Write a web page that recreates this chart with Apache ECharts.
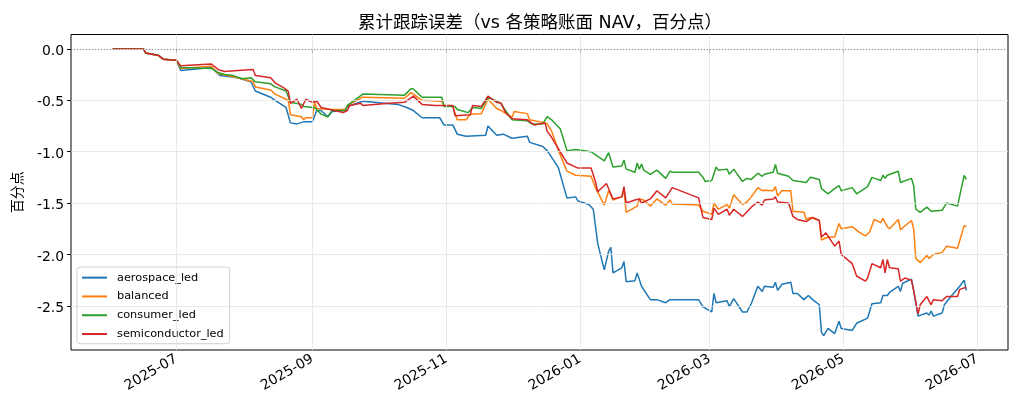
<!DOCTYPE html>
<html>
<head>
<meta charset="utf-8">
<script src="https://cdn.jsdelivr.net/npm/echarts@6/dist/echarts.min.js"></script>
<style>
  html, body { margin: 0; padding: 0; background: #fff; }
  #chart { width: 1019px; height: 414px; }
</style>
</head>
<body>
<div id="chart"></div>
<script>
// 各策略累计跟踪误差（百分点）
const seriesNames = ['aerospace_led', 'balanced', 'consumer_led', 'semiconductor_led']
const colors = ['#1f77b4', '#ff7f0e', '#2ca02c', '#d62728']

const aerospaceLed = [
  ['2025-06-02', 0], ['2025-06-16', 0], ['2025-06-17', -0.04], ['2025-06-23', -0.065], ['2025-06-25', -0.10],
  ['2025-07-01', -0.11], ['2025-07-03', -0.21], ['2025-07-17', -0.18], ['2025-07-21', -0.26], ['2025-07-29', -0.28],
  ['2025-08-04', -0.32], ['2025-08-06', -0.41], ['2025-08-13', -0.47], ['2025-08-15', -0.50], ['2025-08-20', -0.57],
  ['2025-08-22', -0.72], ['2025-08-25', -0.73], ['2025-08-28', -0.71], ['2025-09-01', -0.71], ['2025-09-03', -0.60],
  ['2025-09-05', -0.60], ['2025-09-08', -0.66], ['2025-09-10', -0.61], ['2025-09-16', -0.60], ['2025-09-17', -0.56],
  ['2025-09-24', -0.51], ['2025-10-10', -0.54], ['2025-10-14', -0.57], ['2025-10-17', -0.60], ['2025-10-21', -0.67],
  ['2025-10-29', -0.67], ['2025-10-31', -0.74], ['2025-11-04', -0.74], ['2025-11-06', -0.83], ['2025-11-10', -0.85],
  ['2025-11-19', -0.84], ['2025-11-20', -0.75], ['2025-11-24', -0.84], ['2025-11-27', -0.83], ['2025-12-01', -0.87],
  ['2025-12-08', -0.85], ['2025-12-09', -0.91], ['2025-12-15', -0.95], ['2025-12-17', -0.99], ['2025-12-22', -1.15],
  ['2025-12-26', -1.45], ['2025-12-30', -1.44], ['2025-12-31', -1.48], ['2026-01-05', -1.515], ['2026-01-07', -1.56],
  ['2026-01-09', -1.89], ['2026-01-12', -2.15], ['2026-01-14', -1.97], ['2026-01-15', -1.93], ['2026-01-16', -2.18],
  ['2026-01-20', -2.13], ['2026-01-21', -2.07], ['2026-01-22', -2.265], ['2026-01-26', -2.255], ['2026-01-27', -2.18],
  ['2026-01-29', -2.31], ['2026-02-02', -2.44], ['2026-02-05', -2.44], ['2026-02-09', -2.47], ['2026-02-11', -2.44],
  ['2026-02-24', -2.44], ['2026-02-26', -2.51], ['2026-03-02', -2.56], ['2026-03-03', -2.38], ['2026-03-04', -2.47],
  ['2026-03-09', -2.45], ['2026-03-10', -2.51], ['2026-03-12', -2.43], ['2026-03-16', -2.56], ['2026-03-18', -2.56],
  ['2026-03-20', -2.48], ['2026-03-23', -2.31], ['2026-03-25', -2.36], ['2026-03-26', -2.31], ['2026-03-30', -2.32],
  ['2026-03-31', -2.27], ['2026-04-01', -2.35], ['2026-04-03', -2.29], ['2026-04-07', -2.27], ['2026-04-08', -2.38],
  ['2026-04-10', -2.38], ['2026-04-13', -2.44], ['2026-04-15', -2.40], ['2026-04-17', -2.44], ['2026-04-20', -2.49],
  ['2026-04-21', -2.76], ['2026-04-22', -2.79], ['2026-04-24', -2.72], ['2026-04-27', -2.77], ['2026-04-29', -2.65],
  ['2026-04-30', -2.72], ['2026-05-05', -2.74], ['2026-05-07', -2.67], ['2026-05-12', -2.62], ['2026-05-14', -2.48],
  ['2026-05-18', -2.47], ['2026-05-19', -2.40], ['2026-05-21', -2.40], ['2026-05-22', -2.37], ['2026-05-26', -2.31],
  ['2026-05-27', -2.36], ['2026-05-28', -2.28], ['2026-06-01', -2.24], ['2026-06-02', -2.35], ['2026-06-04', -2.60],
  ['2026-06-08', -2.57], ['2026-06-09', -2.59], ['2026-06-10', -2.55], ['2026-06-11', -2.60], ['2026-06-15', -2.57],
  ['2026-06-16', -2.49], ['2026-06-19', -2.41], ['2026-06-23', -2.31], ['2026-06-25', -2.25], ['2026-06-26', -2.35]
]

const balanced = [
  ['2025-06-02', 0], ['2025-06-16', 0], ['2025-06-17', -0.04], ['2025-06-23', -0.065], ['2025-06-25', -0.10],
  ['2025-07-01', -0.11], ['2025-07-03', -0.19], ['2025-07-17', -0.17], ['2025-07-20', -0.24], ['2025-07-29', -0.28],
  ['2025-08-05', -0.32], ['2025-08-06', -0.37], ['2025-08-13', -0.40], ['2025-08-15', -0.44], ['2025-08-21', -0.50],
  ['2025-08-22', -0.64], ['2025-08-27', -0.66], ['2025-08-28', -0.69], ['2025-08-29', -0.67], ['2025-09-01', -0.67],
  ['2025-09-02', -0.52], ['2025-09-03', -0.58], ['2025-09-10', -0.59], ['2025-09-16', -0.59], ['2025-09-17', -0.55],
  ['2025-09-24', -0.47], ['2025-10-13', -0.48], ['2025-10-16', -0.425], ['2025-10-21', -0.50], ['2025-10-30', -0.51],
  ['2025-10-31', -0.55], ['2025-11-04', -0.56], ['2025-11-06', -0.69], ['2025-11-10', -0.69], ['2025-11-12', -0.635],
  ['2025-11-17', -0.63], ['2025-11-20', -0.49], ['2025-11-24', -0.58], ['2025-11-26', -0.60], ['2025-12-01', -0.665],
  ['2025-12-02', -0.61], ['2025-12-08', -0.63], ['2025-12-09', -0.69], ['2025-12-16', -0.72], ['2025-12-17', -0.73],
  ['2025-12-19', -0.80], ['2025-12-22', -0.98], ['2025-12-26', -1.19], ['2025-12-30', -1.23], ['2026-01-06', -1.24],
  ['2026-01-08', -1.35], ['2026-01-12', -1.52], ['2026-01-14', -1.38], ['2026-01-16', -1.47], ['2026-01-20', -1.44],
  ['2026-01-21', -1.375], ['2026-01-22', -1.59], ['2026-01-27', -1.53], ['2026-01-28', -1.46], ['2026-01-30', -1.47],
  ['2026-02-02', -1.53], ['2026-02-05', -1.46], ['2026-02-09', -1.52], ['2026-02-11', -1.47], ['2026-02-12', -1.51],
  ['2026-02-24', -1.52], ['2026-02-26', -1.58], ['2026-03-02', -1.61], ['2026-03-03', -1.50], ['2026-03-05', -1.56],
  ['2026-03-09', -1.515], ['2026-03-10', -1.55], ['2026-03-12', -1.42], ['2026-03-16', -1.515], ['2026-03-18', -1.49],
  ['2026-03-20', -1.44], ['2026-03-23', -1.35], ['2026-03-25', -1.38], ['2026-03-26', -1.375], ['2026-03-30', -1.38],
  ['2026-03-31', -1.34], ['2026-04-01', -1.43], ['2026-04-03', -1.38], ['2026-04-07', -1.38], ['2026-04-08', -1.58],
  ['2026-04-13', -1.59], ['2026-04-14', -1.66], ['2026-04-16', -1.64], ['2026-04-20', -1.67], ['2026-04-21', -1.86],
  ['2026-04-23', -1.84], ['2026-04-24', -1.83], ['2026-04-27', -1.83], ['2026-04-29', -1.70], ['2026-04-30', -1.75],
  ['2026-05-05', -1.73], ['2026-05-08', -1.78], ['2026-05-11', -1.82], ['2026-05-13', -1.78], ['2026-05-15', -1.66],
  ['2026-05-18', -1.69], ['2026-05-19', -1.65], ['2026-05-21', -1.73], ['2026-05-22', -1.75], ['2026-05-26', -1.66],
  ['2026-05-27', -1.76], ['2026-05-28', -1.74], ['2026-06-01', -1.67], ['2026-06-02', -1.75], ['2026-06-03', -2.04],
  ['2026-06-05', -2.08], ['2026-06-08', -2.01], ['2026-06-09', -2.04], ['2026-06-11', -2.00], ['2026-06-15', -1.98],
  ['2026-06-17', -1.92], ['2026-06-22', -1.94], ['2026-06-25', -1.72], ['2026-06-26', -1.73]
]

const consumerLed = [
  ['2025-06-02', 0], ['2025-06-16', 0], ['2025-06-17', -0.04], ['2025-06-23', -0.065], ['2025-06-25', -0.10],
  ['2025-07-01', -0.11], ['2025-07-03', -0.18], ['2025-07-17', -0.19], ['2025-07-20', -0.23], ['2025-07-23', -0.25],
  ['2025-07-27', -0.26], ['2025-07-31', -0.29], ['2025-08-04', -0.28], ['2025-08-06', -0.32], ['2025-08-13', -0.34],
  ['2025-08-15', -0.37], ['2025-08-20', -0.41], ['2025-08-22', -0.52], ['2025-08-27', -0.54], ['2025-08-28', -0.56],
  ['2025-09-01', -0.57], ['2025-09-02', -0.57], ['2025-09-05', -0.635], ['2025-09-08', -0.66], ['2025-09-10', -0.60],
  ['2025-09-16', -0.60], ['2025-09-17', -0.55], ['2025-09-24', -0.44], ['2025-10-13', -0.45], ['2025-10-16', -0.385],
  ['2025-10-17', -0.39], ['2025-10-21', -0.47], ['2025-10-30', -0.47], ['2025-10-31', -0.56], ['2025-11-05', -0.56],
  ['2025-11-06', -0.59], ['2025-11-11', -0.62], ['2025-11-13', -0.57], ['2025-11-17', -0.58], ['2025-11-20', -0.47],
  ['2025-11-24', -0.51], ['2025-11-26', -0.53], ['2025-11-28', -0.60], ['2025-12-01', -0.69], ['2025-12-08', -0.70],
  ['2025-12-10', -0.73], ['2025-12-15', -0.73], ['2025-12-17', -0.66], ['2025-12-19', -0.69], ['2025-12-23', -0.78],
  ['2025-12-26', -0.99], ['2025-12-30', -0.98], ['2026-01-06', -1.00], ['2026-01-12', -1.09], ['2026-01-14', -1.01],
  ['2026-01-16', -1.15], ['2026-01-20', -1.14], ['2026-01-21', -1.08], ['2026-01-22', -1.17], ['2026-01-26', -1.20],
  ['2026-01-27', -1.11], ['2026-01-28', -1.17], ['2026-01-29', -1.12], ['2026-01-30', -1.18], ['2026-02-02', -1.22],
  ['2026-02-05', -1.18], ['2026-02-09', -1.26], ['2026-02-11', -1.19], ['2026-02-12', -1.20], ['2026-02-24', -1.20],
  ['2026-02-26', -1.25], ['2026-02-27', -1.29], ['2026-03-02', -1.28], ['2026-03-04', -1.15], ['2026-03-05', -1.18],
  ['2026-03-09', -1.17], ['2026-03-10', -1.22], ['2026-03-12', -1.17], ['2026-03-16', -1.29], ['2026-03-18', -1.26],
  ['2026-03-20', -1.27], ['2026-03-23', -1.21], ['2026-03-25', -1.24], ['2026-03-26', -1.22], ['2026-03-30', -1.20],
  ['2026-03-31', -1.125], ['2026-04-01', -1.21], ['2026-04-06', -1.24], ['2026-04-08', -1.28], ['2026-04-14', -1.30],
  ['2026-04-16', -1.25], ['2026-04-20', -1.27], ['2026-04-21', -1.36], ['2026-04-24', -1.41], ['2026-04-27', -1.36],
  ['2026-04-29', -1.33], ['2026-04-30', -1.38], ['2026-05-05', -1.35], ['2026-05-07', -1.41], ['2026-05-12', -1.34],
  ['2026-05-14', -1.25], ['2026-05-18', -1.28], ['2026-05-19', -1.23], ['2026-05-20', -1.26], ['2026-05-21', -1.23],
  ['2026-05-26', -1.19], ['2026-05-27', -1.30], ['2026-06-01', -1.26], ['2026-06-02', -1.33], ['2026-06-03', -1.56],
  ['2026-06-05', -1.59], ['2026-06-08', -1.54], ['2026-06-10', -1.58], ['2026-06-15', -1.57], ['2026-06-17', -1.50],
  ['2026-06-22', -1.53], ['2026-06-25', -1.23], ['2026-06-26', -1.27]
]

const semiconductorLed = [
  ['2025-06-02', 0], ['2025-06-16', 0], ['2025-06-17', -0.04], ['2025-06-23', -0.065], ['2025-06-25', -0.10],
  ['2025-07-01', -0.11], ['2025-07-03', -0.165], ['2025-07-17', -0.147], ['2025-07-20', -0.20], ['2025-07-23', -0.22],
  ['2025-07-29', -0.21], ['2025-08-05', -0.20], ['2025-08-06', -0.26], ['2025-08-13', -0.28], ['2025-08-15', -0.33],
  ['2025-08-19', -0.38], ['2025-08-21', -0.41], ['2025-08-22', -0.53], ['2025-08-25', -0.49], ['2025-08-27', -0.58],
  ['2025-08-29', -0.49], ['2025-09-01', -0.52], ['2025-09-03', -0.51], ['2025-09-05', -0.57], ['2025-09-09', -0.59],
  ['2025-09-15', -0.62], ['2025-09-17', -0.60], ['2025-09-18', -0.55], ['2025-09-23', -0.53], ['2025-09-24', -0.55],
  ['2025-10-06', -0.53], ['2025-10-13', -0.52], ['2025-10-17', -0.46], ['2025-10-21', -0.54], ['2025-10-27', -0.55],
  ['2025-11-04', -0.55], ['2025-11-05', -0.65], ['2025-11-12', -0.64], ['2025-11-13', -0.55], ['2025-11-17', -0.56],
  ['2025-11-20', -0.46], ['2025-11-24', -0.52], ['2025-11-26', -0.53], ['2025-11-28', -0.62], ['2025-12-01', -0.68],
  ['2025-12-08', -0.69], ['2025-12-11', -0.74], ['2025-12-16', -0.72], ['2025-12-17', -0.80], ['2025-12-19', -0.86],
  ['2025-12-26', -1.11], ['2025-12-31', -1.16], ['2026-01-06', -1.16], ['2026-01-08', -1.29], ['2026-01-09', -1.39],
  ['2026-01-13', -1.31], ['2026-01-16', -1.46], ['2026-01-20', -1.44], ['2026-01-21', -1.34], ['2026-01-22', -1.50],
  ['2026-01-26', -1.47], ['2026-01-28', -1.46], ['2026-01-29', -1.50], ['2026-02-02', -1.46], ['2026-02-05', -1.38],
  ['2026-02-09', -1.45], ['2026-02-12', -1.35], ['2026-02-24', -1.45], ['2026-02-26', -1.64], ['2026-03-02', -1.66],
  ['2026-03-03', -1.55], ['2026-03-05', -1.61], ['2026-03-09', -1.56], ['2026-03-10', -1.62], ['2026-03-12', -1.56],
  ['2026-03-16', -1.63], ['2026-03-20', -1.54], ['2026-03-23', -1.49], ['2026-03-25', -1.52], ['2026-03-26', -1.47],
  ['2026-03-30', -1.46], ['2026-03-31', -1.44], ['2026-04-01', -1.49], ['2026-04-06', -1.50], ['2026-04-08', -1.63],
  ['2026-04-10', -1.66], ['2026-04-14', -1.68], ['2026-04-17', -1.64], ['2026-04-20', -1.67], ['2026-04-21', -1.83],
  ['2026-04-23', -1.79], ['2026-04-27', -1.92], ['2026-04-29', -1.87], ['2026-04-30', -2.00], ['2026-05-05', -2.09],
  ['2026-05-07', -2.21], ['2026-05-11', -2.26], ['2026-05-12', -2.23], ['2026-05-14', -2.09], ['2026-05-18', -2.13],
  ['2026-05-19', -2.05], ['2026-05-20', -2.18], ['2026-05-21', -2.05], ['2026-05-22', -2.13], ['2026-05-26', -2.14],
  ['2026-05-27', -2.26], ['2026-05-29', -2.23], ['2026-06-01', -2.25], ['2026-06-02', -2.35], ['2026-06-04', -2.58],
  ['2026-06-05', -2.49], ['2026-06-08', -2.41], ['2026-06-10', -2.49], ['2026-06-11', -2.44], ['2026-06-15', -2.45],
  ['2026-06-17', -2.41], ['2026-06-22', -2.41], ['2026-06-23', -2.34], ['2026-06-26', -2.32]
]

const xTicks = ['2025-07-01', '2025-09-01', '2025-11-01', '2026-01-01', '2026-03-01', '2026-05-01', '2026-07-01']
const yTicks = [0, -0.5, -1.0, -1.5, -2.0, -2.5]

// 西文用 DejaVu Sans，中文回退到 Noto Sans CJK SC
const FONT = '"DejaVu Sans", "Noto Sans CJK SC", sans-serif'
const ts = s => echarts.time.parse(s).getTime()
const xTickValues = xTicks.map(ts)

var myChart = echarts.init(document.getElementById('chart'))

// 日期转成时间戳，x 轴用数值轴
const lineSeries = [aerospaceLed, balanced, consumerLed, semiconductorLed].map((data, i) => ({
    name: seriesNames[i],
    type: 'line',
    data: data.map(d => [ts(d[0]), d[1]]),
    showSymbol: false,
    symbol: 'none',
    z: 3,
    lineStyle: { width: 1.5, color: colors[i] },
    itemStyle: { color: colors[i] }
}))

var option = {
    animation: false,
    backgroundColor: '#fff',
    textStyle: { fontFamily: FONT },
    title: {
        text: '累计跟踪误差（vs 各策略账面 NAV，百分点）',
        left: 535,
        textAlign: 'center',
        top: 10,
        textStyle: { fontFamily: FONT, fontSize: 17.5, fontWeight: 'normal', color: '#000' }
    },
    legend: {
        data: seriesNames,
        orient: 'vertical',
        left: 77,
        top: 267,
        icon: 'rect',
        itemWidth: 25,
        itemHeight: 2,
        itemGap: 7.5,
        padding: [5, 6, 4, 5],
        borderColor: '#d0d0d0',
        borderWidth: 1,
        borderRadius: 3,
        backgroundColor: 'rgba(255,255,255,0.8)',
        textStyle: { fontFamily: FONT, fontSize: 11.3, color: '#000', padding: [0, 0, 0, 5] }
    },
    grid: {
        left: 71, right: 11, top: 34.5, bottom: 64,
        show: true, borderColor: '#000', borderWidth: 1
    },
    xAxis: {
        type: 'value',
        min: ts('2025-05-14'),
        max: ts('2026-07-15'),
        scale: true,
        axisLine: { show: false },
        axisTick: { show: true, customValues: xTickValues, length: 4, lineStyle: { color: '#000' } },
        axisLabel: {
            customValues: xTickValues,
            rotate: 30,
            margin: 8,
            fontFamily: FONT,
            fontSize: 13.9,
            color: '#000',
            formatter: v => echarts.time.format(v, '{yyyy}-{MM}', false)
        },
        splitLine: { show: false }
    },
    yAxis: {
        type: 'value',
        min: -2.93,
        max: 0.14,
        name: '百分点',
        nameLocation: 'middle',
        nameGap: 46,
        nameTextStyle: { fontFamily: FONT, fontSize: 13.9, color: '#000' },
        axisLine: { show: false },
        axisTick: { show: true, customValues: yTicks, length: 4, lineStyle: { color: '#000' } },
        axisLabel: {
            customValues: yTicks,
            margin: 7,
            verticalAlign: 'top',
            lineHeight: 5,
            fontFamily: FONT,
            fontSize: 13.9,
            color: '#000',
            formatter: v => v.toFixed(1)
        },
        splitLine: { show: false }
    },
    series: [
        {
            // 网格线与零线
            name: 'grid',
            type: 'line',
            data: [],
            z: 1,
            silent: true,
            markLine: {
                silent: true,
                symbol: 'none',
                animation: false,
                label: { show: false },
                lineStyle: { color: '#e3e3e3', width: 0.8, type: 'solid' },
                data: [
                    ...yTicks.map(v => ({ yAxis: v })),
                    ...xTickValues.map(t => ({ xAxis: t })),
                    { yAxis: 0, lineStyle: { color: '#808080', width: 0.9, type: [1, 2] } }
                ]
            }
        },
        ...lineSeries
    ]
}

myChart.setOption(option)
</script>
</body>
</html>
